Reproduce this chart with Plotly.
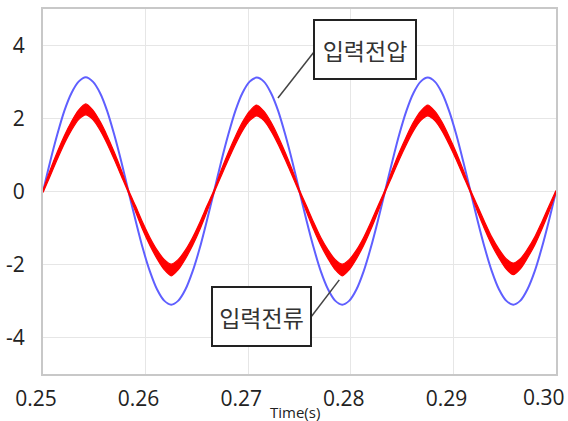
import plotly.graph_objects as go

# Time samples (s)
time_s = [0.25000, 0.25069, 0.25139, 0.25208, 0.25278, 0.25347, 0.25417, 0.25486,
          0.25556, 0.25625, 0.25694, 0.25764, 0.25833, 0.25903, 0.25972, 0.26042,
          0.26111, 0.26181, 0.26250, 0.26319, 0.26389, 0.26458, 0.26528, 0.26597,
          0.26667, 0.26736, 0.26806, 0.26875, 0.26944, 0.27014, 0.27083, 0.27153,
          0.27222, 0.27292, 0.27361, 0.27431, 0.27500, 0.27569, 0.27639, 0.27708,
          0.27778, 0.27847, 0.27917, 0.27986, 0.28056, 0.28125, 0.28194, 0.28264,
          0.28333, 0.28403, 0.28472, 0.28542, 0.28611, 0.28681, 0.28750, 0.28819,
          0.28889, 0.28958, 0.29028, 0.29097, 0.29167, 0.29236, 0.29306, 0.29375,
          0.29444, 0.29514, 0.29583, 0.29653, 0.29722, 0.29792, 0.29861, 0.29931,
          0.30000]

# 입력전압 (blue)
voltage = [0.00, 0.81, 1.56, 2.21, 2.70, 3.01, 3.13, 3.01, 2.70, 2.21, 1.56, 0.81,
           0.00, -0.80, -1.55, -2.19, -2.68, -2.99, -3.10, -2.99, -2.68, -2.19, -1.55, -0.80,
           0.00, 0.81, 1.56, 2.21, 2.70, 3.01, 3.12, 3.01, 2.70, 2.21, 1.56, 0.81,
           0.00, -0.80, -1.55, -2.19, -2.68, -2.99, -3.10, -2.99, -2.68, -2.19, -1.55, -0.80,
           0.00, 0.81, 1.56, 2.21, 2.70, 3.01, 3.12, 3.01, 2.70, 2.21, 1.56, 0.81,
           0.00, -0.80, -1.55, -2.19, -2.68, -2.99, -3.10, -2.99, -2.68, -2.19, -1.55, -0.80,
           0.00]

# 입력전류 (red) centre
current = [0.00, 0.50, 0.98, 1.42, 1.80, 2.10, 2.25, 2.10, 1.80, 1.42, 0.98, 0.50,
           0.00, -0.48, -0.95, -1.37, -1.72, -2.00, -2.15, -2.00, -1.72, -1.37, -0.95, -0.48,
           0.00, 0.50, 0.97, 1.40, 1.78, 2.07, 2.22, 2.07, 1.78, 1.40, 0.97, 0.50,
           0.00, -0.48, -0.95, -1.37, -1.72, -2.00, -2.15, -2.00, -1.72, -1.37, -0.95, -0.48,
           0.00, 0.50, 0.97, 1.40, 1.78, 2.07, 2.22, 2.07, 1.78, 1.40, 0.97, 0.50,
           0.00, -0.48, -0.94, -1.36, -1.70, -1.98, -2.12, -1.98, -1.70, -1.36, -0.94, -0.48,
           0.00]
# 입력전류 ripple half-band
ripple = [0.03, 0.08, 0.10, 0.11, 0.12, 0.13, 0.15, 0.13, 0.12, 0.11, 0.10, 0.08,
          0.04, 0.08, 0.10, 0.11, 0.12, 0.14, 0.16, 0.14, 0.12, 0.11, 0.10, 0.08,
          0.04, 0.08, 0.10, 0.11, 0.12, 0.13, 0.15, 0.13, 0.12, 0.11, 0.10, 0.08,
          0.04, 0.08, 0.10, 0.11, 0.12, 0.14, 0.16, 0.14, 0.12, 0.11, 0.10, 0.08,
          0.04, 0.08, 0.10, 0.11, 0.12, 0.13, 0.15, 0.13, 0.12, 0.11, 0.10, 0.08,
          0.04, 0.08, 0.10, 0.11, 0.12, 0.14, 0.16, 0.14, 0.12, 0.11, 0.10, 0.08,
          0.03]

x_ticks = [0.25, 0.26, 0.27, 0.28, 0.29, 0.30]
x_labels = ["0.25", "0.26", "0.27", "0.28", "0.29", ""]
last_x_label = "0.30"
y_ticks = [-4, -2, 0, 2, 4]
y_labels = ["-4", "-2", "0", "2", "4"]

cur_hi = [c + r for c, r in zip(current, ripple)]
cur_lo = [c - r for c, r in zip(current, ripple)]

fig = go.Figure()
fig.add_trace(go.Scatter(x=time_s, y=voltage, mode="lines",
                         line=dict(color="#5f5fff", width=2, shape="spline", smoothing=0.8),
                         showlegend=False, hoverinfo="skip"))
fig.add_trace(go.Scatter(x=time_s, y=cur_hi, mode="lines",
                         line=dict(color="#ff0000", width=1.2, shape="spline", smoothing=0.8),
                         showlegend=False, hoverinfo="skip"))
fig.add_trace(go.Scatter(x=time_s, y=cur_lo, mode="lines", fill="tonexty", fillcolor="#ff0000",
                         line=dict(color="#ff0000", width=1.2, shape="spline", smoothing=0.8),
                         showlegend=False, hoverinfo="skip"))

font_main = "Open Sans, Noto Sans, sans-serif"
tick_font = dict(size=21, color="#222222", family=font_main)
fig.update_layout(
    width=568, height=421,
    margin=dict(l=43, r=12, t=9, b=47),
    paper_bgcolor="white", plot_bgcolor="white",
    font=dict(family=font_main, color="#222222"),
    xaxis=dict(range=[0.25, 0.3000001], tickvals=x_ticks, ticktext=x_labels,
               showgrid=True, gridcolor="#e6e6e6", gridwidth=1, automargin=False,
               showline=True, linecolor="#c8c8c8", linewidth=2, mirror=True,
               zeroline=False, ticks="", tickfont=tick_font,
               ticklabelstandoff=5, ticklabelshift=-7, ticklabeloverflow="allow"),
    yaxis=dict(range=[-5, 5], tickvals=y_ticks, ticktext=y_labels,
               showgrid=True, gridcolor="#e6e6e6", gridwidth=1, automargin=False,
               showline=True, linecolor="#c8c8c8", linewidth=2, mirror=True,
               zeroline=False, ticks="", tickfont=tick_font,
               ticklabelstandoff=12, ticklabeloverflow="allow"),
)

fig.add_annotation(text=last_x_label, xref="paper", yref="paper", x=1.0, y=-0.063,
                   xanchor="center", yanchor="middle", xshift=-12, showarrow=False,
                   font=tick_font)

fig.add_annotation(text="Time(s)", xref="paper", yref="paper", x=0.491, y=-0.104,
                   xanchor="center", yanchor="middle", showarrow=False,
                   font=dict(size=15, color="#222222", family=font_main))

box_font = dict(size=23, color="#333333", family="Noto Sans CJK KR")
fig.add_annotation(text="입력전압", x=0.28138, y=3.89, xref="x", yref="y",
                   showarrow=False, width=98, height=55, bgcolor="white",
                   bordercolor="#222222", borderwidth=2, font=box_font)
fig.add_annotation(text="입력전류", x=0.27130, y=-3.42, xref="x", yref="y",
                   showarrow=False, width=95, height=55, bgcolor="white",
                   bordercolor="#222222", borderwidth=2, font=box_font)

fig.add_shape(type="line", x0=0.27641, y0=3.82, x1=0.27290, y1=2.56,
              xref="x", yref="y", line=dict(color="#444444", width=1.5))
fig.add_shape(type="line", x0=0.27612, y0=-3.44, x1=0.27888, y1=-2.42,
              xref="x", yref="y", line=dict(color="#444444", width=1.5))

fig.write_html("out.html")
